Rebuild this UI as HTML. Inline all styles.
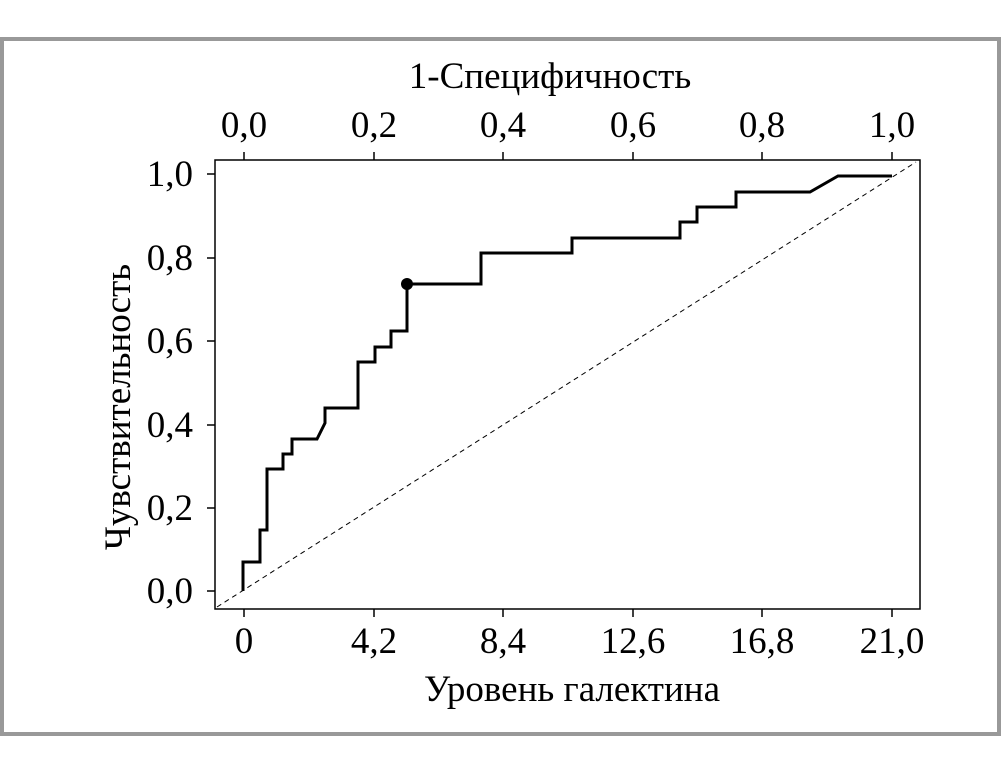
<!DOCTYPE html>
<html><head><meta charset="utf-8"><style>
html,body{margin:0;padding:0;background:#fff;}
svg{display:block;}
text{font-family:"Liberation Serif",serif;fill:#000;}
</style></head><body>
<svg width="1001" height="774" viewBox="0 0 1001 774">
<rect x="2" y="39" width="997" height="695" fill="#fff" stroke="#999" stroke-width="4"/>
<rect x="215" y="160" width="705" height="449" fill="none" stroke="#000" stroke-width="1.5"/>
<line x1="217" y1="607" x2="916" y2="162" stroke="#000" stroke-width="1" stroke-dasharray="5,4"/>
<g stroke="#000" stroke-width="1.5">
<line x1="244" y1="152" x2="244" y2="160"/><line x1="374" y1="152" x2="374" y2="160"/>
<line x1="503" y1="152" x2="503" y2="160"/><line x1="633" y1="152" x2="633" y2="160"/>
<line x1="762" y1="152" x2="762" y2="160"/><line x1="892" y1="152" x2="892" y2="160"/>
<line x1="244" y1="609" x2="244" y2="617"/><line x1="374" y1="609" x2="374" y2="617"/>
<line x1="503" y1="609" x2="503" y2="617"/><line x1="633" y1="609" x2="633" y2="617"/>
<line x1="762" y1="609" x2="762" y2="617"/><line x1="892" y1="609" x2="892" y2="617"/>
<line x1="207" y1="174" x2="215" y2="174"/><line x1="207" y1="258" x2="215" y2="258"/>
<line x1="207" y1="341" x2="215" y2="341"/><line x1="207" y1="425" x2="215" y2="425"/>
<line x1="207" y1="508" x2="215" y2="508"/><line x1="207" y1="591" x2="215" y2="591"/>
</g>
<g font-size="37" text-anchor="middle">
<text x="244" y="137">0,0</text><text x="374" y="137">0,2</text><text x="503" y="137">0,4</text>
<text x="633" y="137">0,6</text><text x="762" y="137">0,8</text><text x="892" y="137">1,0</text>
<text x="244" y="653">0</text><text x="374" y="653">4,2</text><text x="503" y="653">8,4</text>
<text x="633" y="653">12,6</text><text x="762" y="653">16,8</text><text x="892" y="653">21,0</text>
</g>
<g font-size="37" text-anchor="end">
<text x="193" y="186">1,0</text><text x="193" y="270">0,8</text><text x="193" y="353">0,6</text>
<text x="193" y="437">0,4</text><text x="193" y="520">0,2</text><text x="193" y="603">0,0</text>
</g>
<text x="550" y="88" font-size="37" text-anchor="middle">1-Специфичность</text>
<text x="572" y="701" font-size="37" text-anchor="middle">Уровень галектина</text>
<text transform="translate(130,407) rotate(-90)" font-size="37" text-anchor="middle">Чувствительность</text>
<polyline fill="none" stroke="#000" stroke-width="3" stroke-linejoin="miter" points="
243,591 243,562 260,562 260,530 267,530 267,469 283,469 283,454 292,454 292,439 317,439 325,423 325,408 358,408 358,362 375,362 375,347 391,347 391,331 407,331 407,284 481,284 481,253 572,253 572,238 680,238 680,222 697,222 697,207 736,207 736,192 810,192 838,176 892,176"/>
<circle cx="407" cy="284" r="6" fill="#000"/>
</svg>
</body></html>
